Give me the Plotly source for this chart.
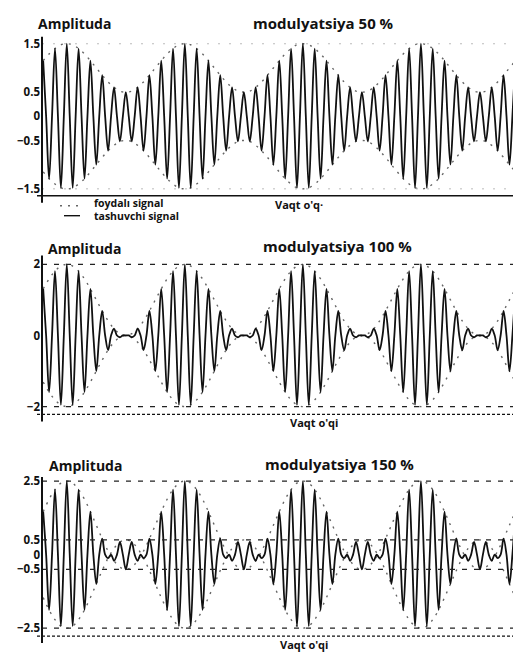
import numpy as np
import plotly.graph_objects as go

# ---------------- data ----------------
# one modulation period = 10 carrier cycles = 20 carrier extrema
carrier_extrema = [1, -1, 1, -1, 1, -1, 1, -1, 1, -1,
                   1, -1, 1, -1, 1, -1, 1, -1, 1, -1]
# envelope height at each carrier extremum (one modulation period)
env_50 = [1.15, 1.29, 1.40, 1.48, 1.50, 1.48, 1.40, 1.29, 1.15, 1.00,
          0.85, 0.71, 0.60, 0.52, 0.50, 0.52, 0.60, 0.71, 0.85, 1.00]
env_100 = [1.31, 1.59, 1.81, 1.95, 2.00, 1.95, 1.81, 1.59, 1.31, 1.00,
           0.69, 0.41, 0.19, 0.05, 0.00, 0.05, 0.19, 0.41, 0.69, 1.00]
env_150 = [1.46, 1.88, 2.21, 2.43, 2.50, 2.43, 2.21, 1.88, 1.46, 1.00,
           0.54, 0.12, -0.21, -0.43, -0.50, -0.43, -0.21, 0.12, 0.54, 1.00]
periods_shown = 4
first_extremum_time = 0.01
extremum_spacing = 0.05
time_range = [0, 3.99]

titles = ["modulyatsiya 50 %", "modulyatsiya 100 %", "modulyatsiya 150 %"]
y_label = "Amplituda"
x_label = ["Vaqt o'q·", "Vaqt o'qi", "Vaqt o'qi"]
legend_labels = ["foydalı signal", "tashuvchi signal"]

tick_vals = [[1.5, 0.5, 0, -0.5, -1.5], [2, 0, -2], [2.5, 0.5, 0, -0.5, -2.5]]
tick_text = [["1.5", "0.5", "0", "−0.5", "−1.5"], ["2", "0", "−2"],
             ["2.5", "0.5", "0", "−0.5", "−2.5"]]
ref_levels = [[1.5, -1.5], [2, -2], [2.5, 0.5, -0.5, -2.5]]
y_ranges = [[-1.644, 1.644], [-2.22, 2.25], [-2.77, 2.635]]

envelopes = [env_50, env_100, env_150]

# ---------------- layout geometry (pixels) ----------------
W, H = 513, 652
panel_px = [(33, 193), (253, 413), (476, 636)]  # top, bottom of each plot
x_left_px = 42

def py(p):
    return 1 - p / H

def px(p):
    return p / W

FONT = "Open Sans"
fig = go.Figure()

for i, env in enumerate(envelopes):
    env_full = list(env) * periods_shown + [env[0]]
    car_full = list(carrier_extrema) * periods_shown + [carrier_extrema[0]]
    n = len(env_full)
    t_ext = [first_extremum_time + extremum_spacing * j for j in range(n)]
    xs, ys = [], []
    for j in range(n):
        xs.append(t_ext[j])
        ys.append(env_full[j] * car_full[j])
        if j < n - 1:
            xs.append((t_ext[j] + t_ext[j + 1]) / 2)
            ys.append(0.0)
    xa = "x" if i == 0 else f"x{i+1}"
    ya = "y" if i == 0 else f"y{i+1}"
    # envelope (dotted)
    for sgn in (1, -1):
        fig.add_trace(go.Scatter(
            x=t_ext, y=[sgn * e for e in env_full], mode="lines",
            line=dict(color="#666666", width=1.4, dash="2px,6px", shape="spline"),
            xaxis=xa, yaxis=ya, showlegend=False, hoverinfo="skip"))
    # modulated signal
    fig.add_trace(go.Scatter(
        x=xs, y=ys, mode="lines",
        line=dict(color="#111111", width=1.8, shape="spline", smoothing=1.0),
        xaxis=xa, yaxis=ya, showlegend=False))

layout = dict(
    width=W, height=H,
    margin=dict(l=0, r=0, t=0, b=0),
    paper_bgcolor="white", plot_bgcolor="white",
    showlegend=False,
    font=dict(family=FONT, color="#111111"),
)
shapes = []
annotations = []
for i in range(3):
    top, bot = panel_px[i]
    xk = "xaxis" if i == 0 else f"xaxis{i+1}"
    yk = "yaxis" if i == 0 else f"yaxis{i+1}"
    ya = "y" if i == 0 else f"y{i+1}"
    xa = "x" if i == 0 else f"x{i+1}"
    layout[xk] = dict(domain=[px(x_left_px), 1], range=time_range,
                      showgrid=False, zeroline=False, showticklabels=False,
                      showline=False, anchor=ya, fixedrange=True)
    layout[yk] = dict(domain=[py(bot), py(top)], range=y_ranges[i],
                      showgrid=False, zeroline=False, showline=False,
                      tickvals=tick_vals[i], ticktext=tick_text[i], ticks="",
                      ticklabelstandoff=1,
                      tickfont=dict(family=FONT, size=11.5, weight="bold", color="#111"),
                      anchor=xa, fixedrange=True)
    # reference levels
    for lv in ref_levels[i]:
        shapes.append(dict(type="line", xref=f"{xa} domain", yref=ya,
                           x0=0, x1=1, y0=lv, y1=lv,
                           line=dict(color="#222" if i else "#bbbbbb",
                                     width=1.3 if i else 1.0,
                                     dash="5px,7px" if i else "2px,9px")))
    # x axis line
    span = bot - top
    shapes.append(dict(type="line", xref="paper", yref=f"{ya} domain",
                       x0=px(37), x1=1, y0=0, y1=0,
                       line=dict(color="#111", width=1.6 if i == 0 else 1.3,
                                 dash="solid" if i == 0 else "3px,2px")))
    # y axis line
    shapes.append(dict(type="line", xref=f"{xa} domain", yref=f"{ya} domain",
                       x0=0, x1=0, y0=-7 / span, y1=1,
                       line=dict(color="#111", width=2)))

# titles / labels (left edges, vertical centres in pixels)
amp_pos = [(36, 20), (46, 246), (47, 464)]
title_pos = [(251, 19), (261, 243), (263, 463)]
xl_pos = [(299, 202), (314, 421), (304, 644)]
for i in range(3):
    annotations.append(dict(text=y_label, x=px(amp_pos[i][0]), y=py(amp_pos[i][1]),
                            xref="paper", yref="paper", showarrow=False,
                            xanchor="left", yanchor="middle",
                            font=dict(family=FONT, size=14, weight="bold", color="#111")))
    annotations.append(dict(text=titles[i], x=px(title_pos[i][0]), y=py(title_pos[i][1]),
                            xref="paper", yref="paper", showarrow=False,
                            xanchor="left", yanchor="middle",
                            font=dict(family=FONT, size=15, weight="bold", color="#111")))
    annotations.append(dict(text=x_label[i], x=px(xl_pos[i][0]), y=py(xl_pos[i][1]),
                            xref="paper", yref="paper", showarrow=False,
                            xanchor="center", yanchor="middle",
                            font=dict(family=FONT, size=11, weight="bold", color="#111")))

# legend (hand-placed like the original)
annotations.append(dict(text=legend_labels[0], x=px(92), y=py(200.5), xref="paper", yref="paper",
                        showarrow=False, xanchor="left", yanchor="middle",
                        font=dict(family=FONT, size=10.5, weight="bold", color="#111")))
annotations.append(dict(text=legend_labels[1], x=px(92), y=py(213.5), xref="paper", yref="paper",
                        showarrow=False, xanchor="left", yanchor="middle",
                        font=dict(family=FONT, size=10.5, weight="bold", color="#111")))
shapes.append(dict(type="line", xref="paper", yref="paper",
                   x0=px(60), x1=px(82), y0=py(203), y1=py(203),
                   line=dict(color="#666", width=1.4, dash="2px,6px")))
shapes.append(dict(type="line", xref="paper", yref="paper",
                   x0=px(64), x1=px(80), y0=py(213), y1=py(213),
                   line=dict(color="#111", width=1.4)))

layout["shapes"] = shapes
layout["annotations"] = annotations
fig.update_layout(**layout)
fig.write_html("out.html", config={"displayModeBar": False},
               post_script="document.body.style.margin='0';document.body.style.overflow='hidden';")
